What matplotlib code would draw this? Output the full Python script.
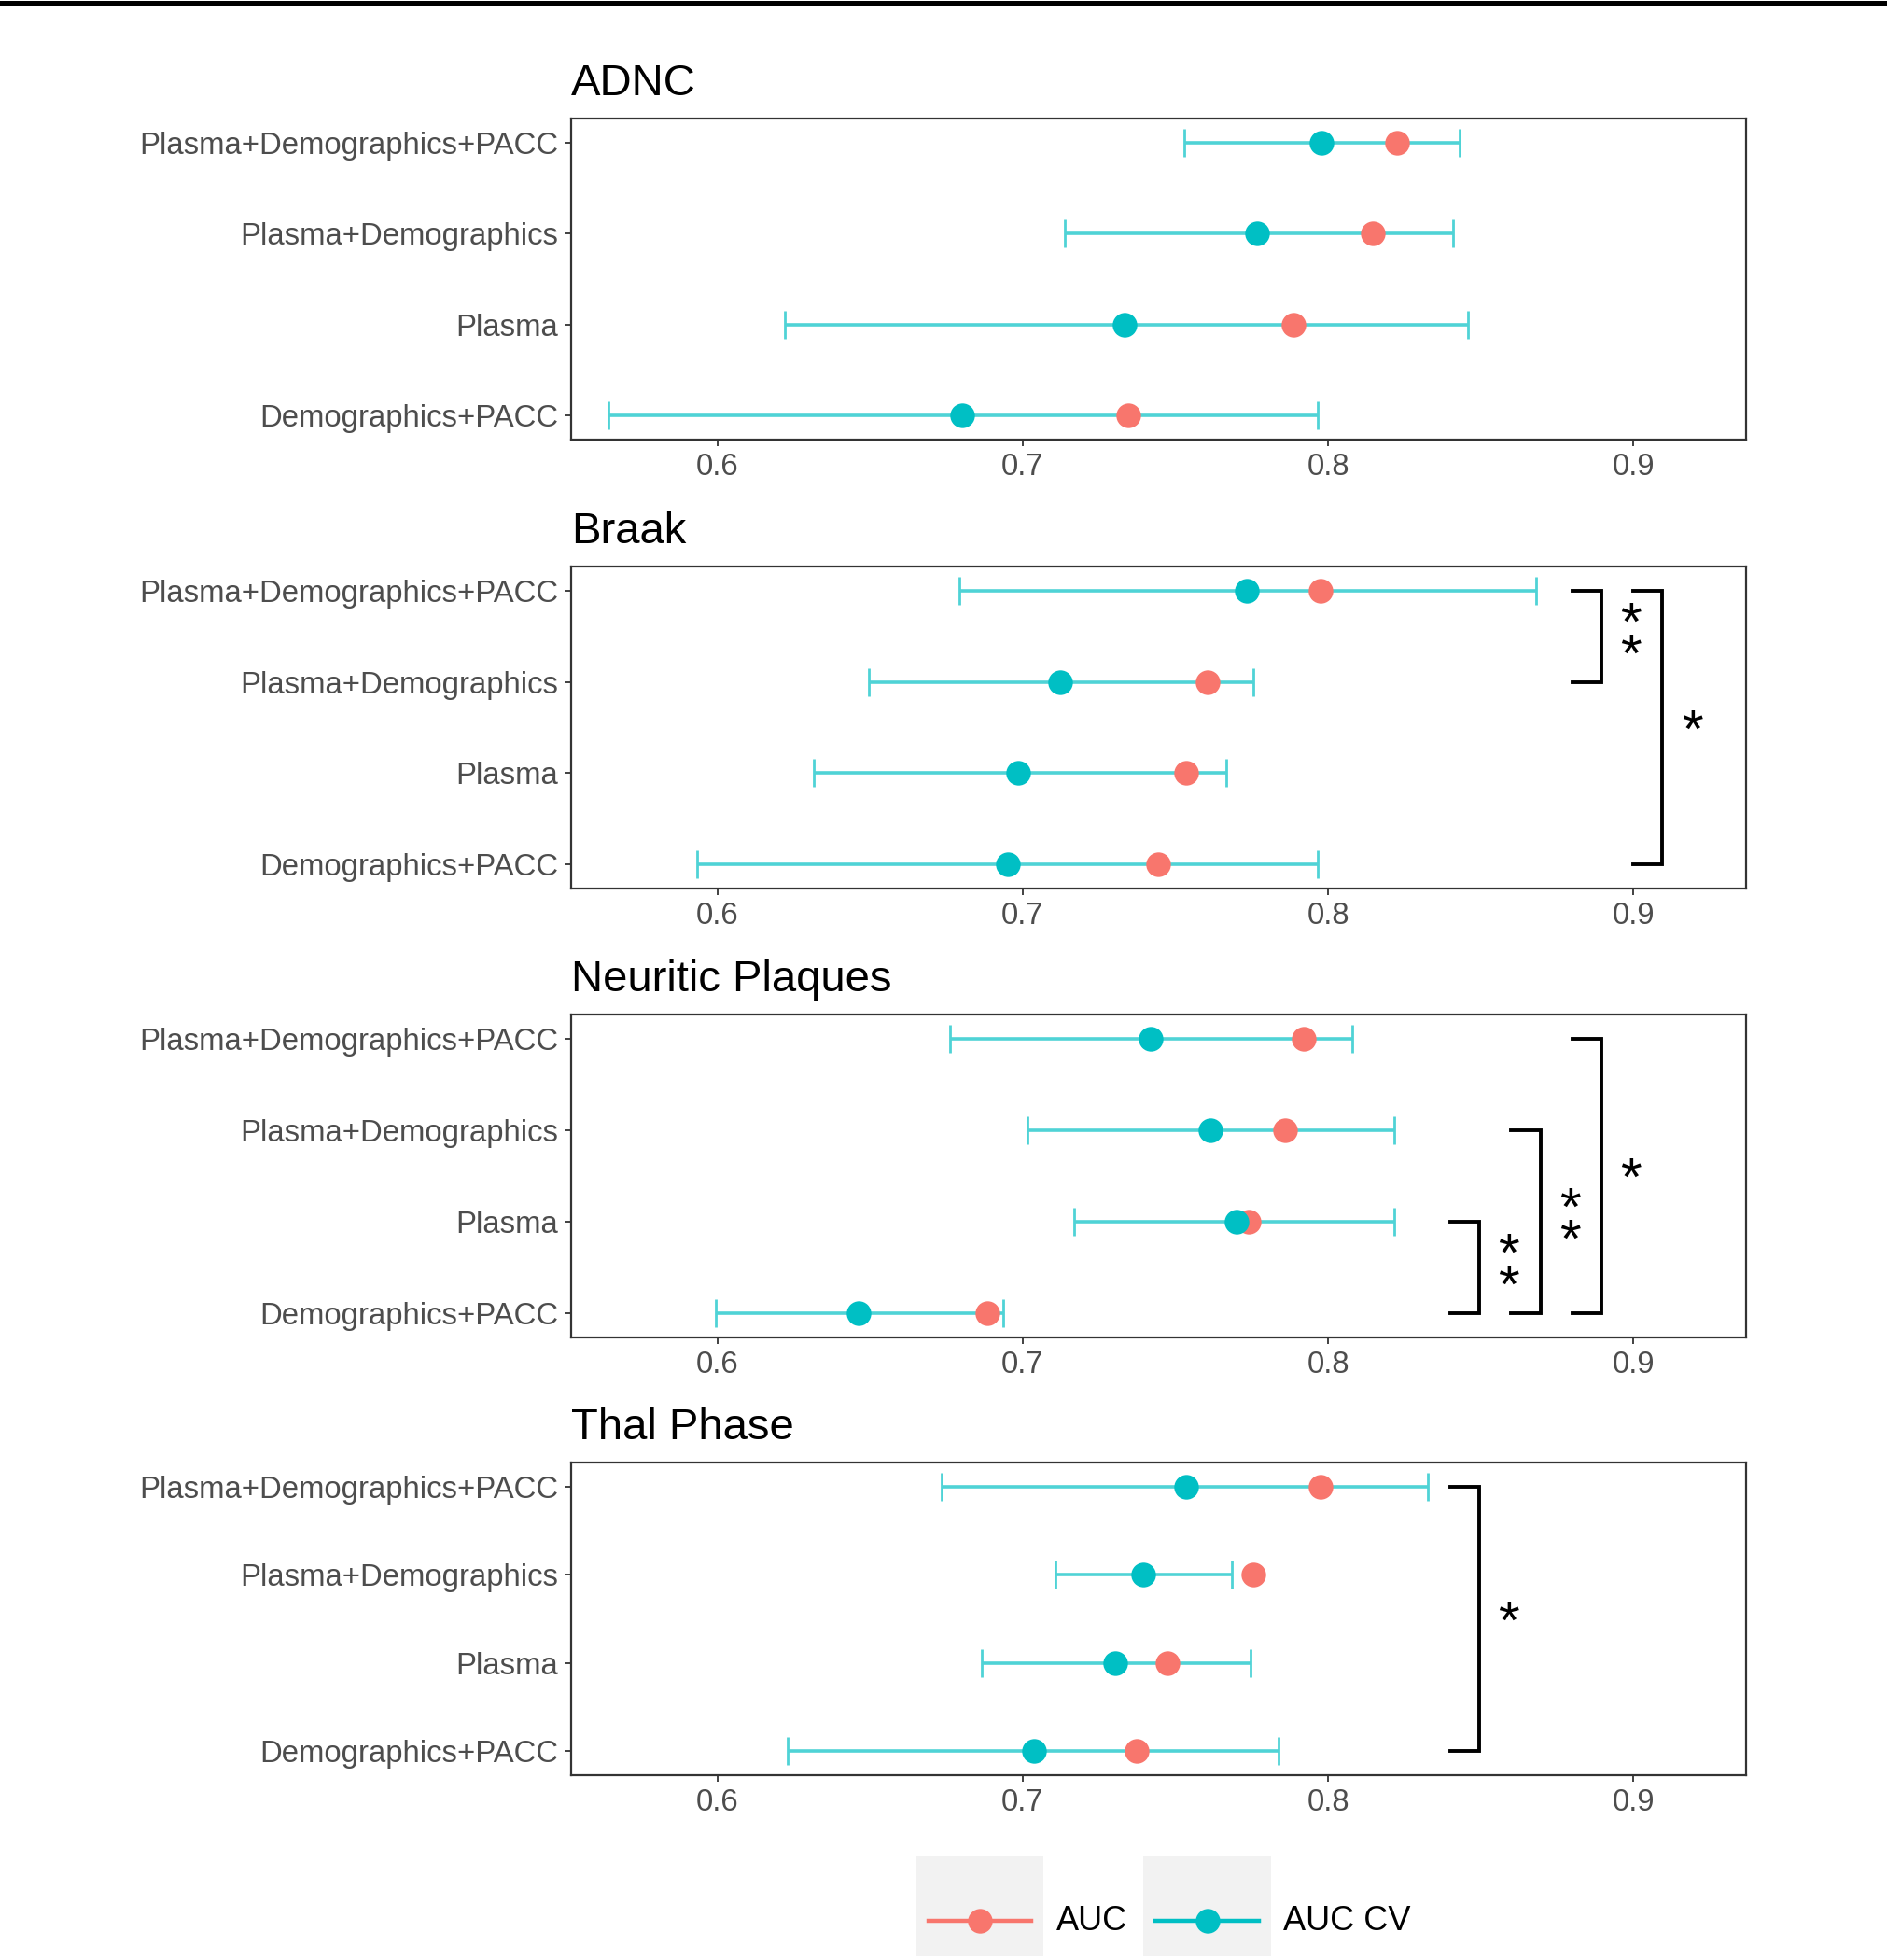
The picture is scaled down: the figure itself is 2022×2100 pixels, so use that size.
import numpy as np
import matplotlib
matplotlib.use("Agg")
import matplotlib.pyplot as plt
from matplotlib.lines import Line2D
from matplotlib.patches import Rectangle

plt.rcParams['font.family'] = ['Liberation Sans', 'DejaVu Sans']

# rows, bottom to top
models = ["Demographics+PACC", "Plasma", "Plasma+Demographics", "Plasma+Demographics+PACC"]
panel_titles = ["ADNC", "Braak", "Neuritic Plaques", "Thal Phase"]

# values per panel, rows in the same order as models
auc = {
    "ADNC": [0.7345, 0.7886, 0.8147, 0.8226],
    "Braak": [0.7444, 0.7536, 0.7607, 0.7975],
    "Neuritic Plaques": [0.6886, 0.7739, 0.7858, 0.7921],
    "Thal Phase": [0.7373, 0.7475, 0.7756, 0.7975],
}
auc_cv = {
    "ADNC": [0.6802, 0.7335, 0.7766, 0.7977],
    "Braak": [0.6952, 0.6985, 0.7124, 0.7734],
    "Neuritic Plaques": [0.6462, 0.7700, 0.7614, 0.7419],
    "Thal Phase": [0.7036, 0.7302, 0.7396, 0.7536],
}
ci_lo = {
    "ADNC": [0.5645, 0.6223, 0.7137, 0.7528],
    "Braak": [0.5934, 0.6317, 0.6497, 0.6794],
    "Neuritic Plaques": [0.5995, 0.7168, 0.7015, 0.6761],
    "Thal Phase": [0.6231, 0.6865, 0.7107, 0.6734],
}
ci_hi = {
    "ADNC": [0.7967, 0.8459, 0.8409, 0.8429],
    "Braak": [0.7967, 0.7668, 0.7756, 0.8680],
    "Neuritic Plaques": [0.6937, 0.8218, 0.8218, 0.8079],
    "Thal Phase": [0.7838, 0.7746, 0.7685, 0.8327],
}
# significance brackets: (row from, row to, x position, label)
brackets = {
    "ADNC": [],
    "Braak": [(3, 4, 0.88, "**"), (1, 4, 0.90, "*")],
    "Neuritic Plaques": [(1, 2, 0.84, "**"), (1, 3, 0.86, "**"), (1, 4, 0.88, "*")],
    "Thal Phase": [(1, 4, 0.84, "*")],
}

RED = "#F8766D"
TEAL = "#00BFC4"
BAR = "#4FD3D6"
GREY_TXT = "#4D4D4D"
STAR_FS = 42

fig = plt.figure(figsize=(20.22, 21.0), dpi=100)

left, width = 0.3027, 0.6227
panel_pos = [(0.7757, 0.1638), (0.5467, 0.1643), (0.3176, 0.1648), (0.0943, 0.1595)]

rows = np.arange(1, 5)
for title, (bottom, height) in zip(panel_titles, panel_pos):
    ax = fig.add_axes([left, bottom, width, height])
    lo = np.array(ci_lo[title])
    hi = np.array(ci_hi[title])
    cv = np.array(auc_cv[title])
    ax.errorbar(cv, rows, xerr=[cv - lo, hi - cv], fmt='none', ecolor=BAR,
                elinewidth=2.6, capsize=11, capthick=2.0, zorder=2)
    ax.plot(auc[title], rows, 'o', color=RED, ms=19, mec='none', zorder=3)
    ax.plot(cv, rows, 'o', color=TEAL, ms=19, mec='none', zorder=4)

    for r0, r1, x0, lab in brackets[title]:
        x1 = x0 + 0.0095
        ax.plot([x0, x1, x1, x0], [r1, r1, r0, r0], color='black', lw=2.8,
                solid_joinstyle='miter', zorder=5)
        mid = (r0 + r1) / 2
        # stars stacked upright in one text; glyph sits ~0.32 em above box centre
        ax.annotate("\n".join(lab), xy=(x0 + 0.0192, mid),
                    xytext=(0, 9 - 0.316 * STAR_FS), textcoords='offset points',
                    ha='center', va='center', fontsize=STAR_FS, linespacing=0.52,
                    color='black')

    ax.set_xlim(0.5522, 0.9369)
    ax.set_ylim(0.73, 4.27)
    ax.set_xticks([0.6, 0.7, 0.8, 0.9])
    ax.set_xticklabels(["0.6", "0.7", "0.8", "0.9"])
    ax.set_yticks(rows)
    ax.set_yticklabels(models)
    ax.tick_params(axis='both', labelsize=23.7, labelcolor=GREY_TXT,
                   color='#333333', length=5, width=1.3, pad=5)
    for sp in ax.spines.values():
        sp.set_color('#333333')
        sp.set_linewidth(1.6)
    ax.set_title(title, loc='left', fontsize=34, pad=18, color='black')

# legend drawn by hand, with grey key backgrounds
W, H = 2022.0, 2100.0
def fx(px):
    return px / W
def fy(py):
    return 1 - py / H

legend_items = [("AUC", RED, 982, 1118, 1132), ("AUC CV", TEAL, 1225, 1362, 1375)]
for lab, col, bx0, bx1, tx in legend_items:
    fig.add_artist(Rectangle((fx(bx0), fy(2096)), fx(bx1) - fx(bx0), fy(1989) - fy(2096),
                             transform=fig.transFigure, facecolor='#F2F2F2',
                             edgecolor='none'))
    fig.add_artist(Line2D([fx(bx0 + 13), fx(bx1 - 13)], [fy(2058), fy(2058)],
                          transform=fig.transFigure, color=col, lw=3.2))
    fig.add_artist(Line2D([fx((bx0 + bx1) / 2)], [fy(2058)], transform=fig.transFigure,
                          marker='o', ms=19, color=col, mec='none'))
    fig.text(fx(tx), fy(2058), lab, fontsize=26, va='center', ha='left', color='black')

# rule along the top edge
fig.add_artist(Line2D([0, 1], [fy(2.5), fy(2.5)], transform=fig.transFigure,
                      color='black', lw=3.6))

fig.savefig("out.png", dpi=100, facecolor='white')
